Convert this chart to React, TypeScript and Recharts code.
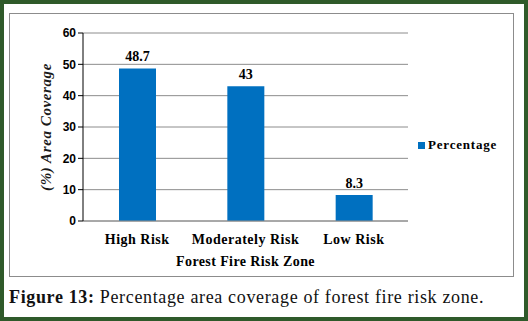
import { BarChart, Bar, XAxis, YAxis, CartesianGrid, Legend, LabelList } from "recharts";

const zones = ["High Risk", "Moderately Risk", "Low Risk"];
const percentage = [48.7, 43, 8.3];
const yTicks = [0, 10, 20, 30, 40, 50, 60];

const data = zones.map((zone, i) => ({ zone, Percentage: percentage[i] }));

const serif = '"Liberation Serif", "Times New Roman", serif';
const sans = '"Liberation Sans", Arial, sans-serif';

const LegendBox = () => (
    <div style={{ display: "flex", alignItems: "center", fontFamily: serif, fontWeight: "bold", fontSize: 13, color: "#000", letterSpacing: 0.8 }}>
        <span style={{ display: "inline-block", width: 7, height: 7, background: "#0070c0", marginRight: 3 }} />
        Percentage
    </div>
);

export default function App() {
    return (
        <div
            style={{
                position: "fixed",
                left: 0,
                top: 0,
                width: 528,
                height: 321,
                boxSizing: "border-box",
                border: "4px solid #2f5a2a",
                background: "#fff",
            }}
        >
            <div
                style={{
                    position: "absolute",
                    left: 5,
                    top: 9,
                    width: 503,
                    height: 262,
                    border: "1px solid #8c8c8c",
                }}
            >
                <BarChart
                    width={503}
                    height={262}
                    data={data}
                    margin={{ top: 19, right: 10, left: 0, bottom: 0 }}
                >
                    <CartesianGrid vertical={false} stroke="#8c8c8c" />
                    <XAxis
                        dataKey="zone"
                        height={55}
                        stroke="#8c8c8c"
                        tickLine={false}
                        interval={0}
                        tick={({ x, y, payload }: { x: number; y: number; payload: { value: string } }) => (
                            <text x={x} y={y + 15} textAnchor="middle" fontFamily={serif} fontWeight="bold" fontSize={14} fill="#000" letterSpacing={0.5}>
                                {payload.value}
                            </text>
                        )}
                        label={{
                            value: "Forest Fire Risk Zone",
                            position: "insideBottom",
                            offset: 10,
                            style: { fontFamily: serif, fontWeight: "bold", fontSize: 14, fill: "#000", letterSpacing: 0.4 },
                        }}
                    />
                    <YAxis
                        width={73}
                        domain={[0, 60]}
                        ticks={yTicks}
                        stroke="#000"
                        tickSize={5}
                        tick={{ fontFamily: sans, fontWeight: "bold", fontSize: 12, fill: "#000" }}
                        label={{
                            value: "(%) Area Coverage",
                            angle: -90,
                            position: "insideLeft",
                            offset: 36,
                            style: { textAnchor: "middle", fontFamily: serif, fontWeight: "bold", fontStyle: "italic", fontSize: 15, fill: "#1a1a1a", letterSpacing: 0.6 },
                        }}
                    />
                    <Legend
                        content={<LegendBox />}
                        layout="vertical"
                        align="right"
                        verticalAlign="middle"
                        wrapperStyle={{ position: "absolute", left: 408, top: 123, width: 95 }}
                    />
                    <Bar dataKey="Percentage" fill="#0070c0" barSize={37} isAnimationActive={false}>
                        <LabelList
                            dataKey="Percentage"
                            position="top"
                            offset={7}
                            style={{ fontFamily: serif, fontWeight: "bold", fontSize: 14, fill: "#000" }}
                        />
                    </Bar>
                </BarChart>
            </div>
            <div
                style={{
                    position: "absolute",
                    left: 5,
                    top: 283,
                    fontFamily: serif,
                    fontSize: 18,
                    letterSpacing: 0.65,
                    color: "#111",
                    whiteSpace: "nowrap",
                }}
            >
                <b>Figure 13:</b> Percentage area coverage of forest fire risk zone.
            </div>
        </div>
    );
}
